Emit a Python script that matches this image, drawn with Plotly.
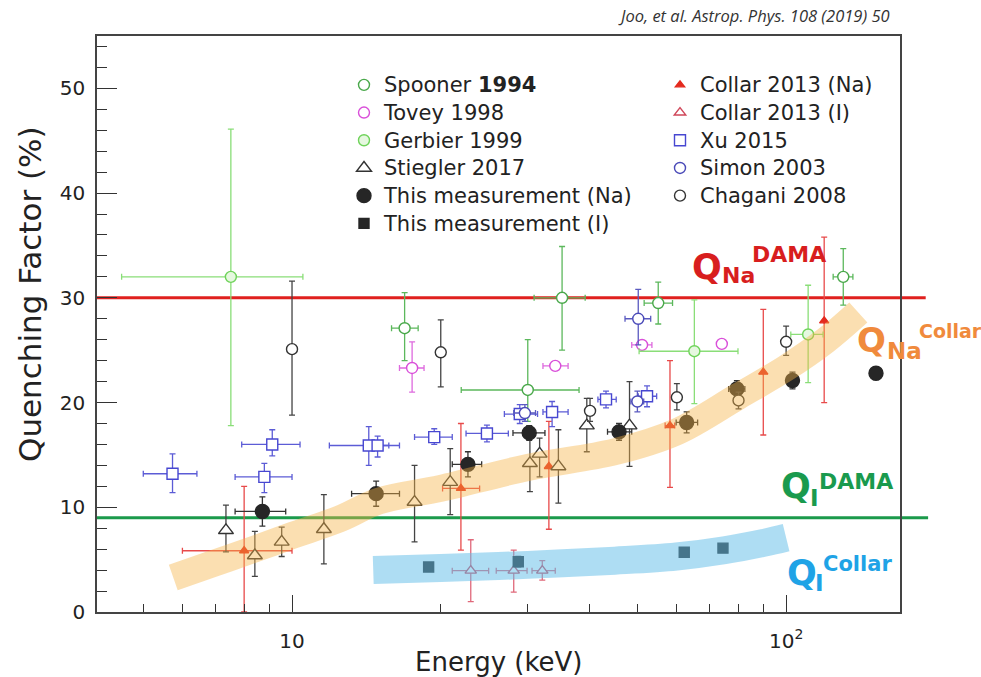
import math
import plotly.graph_objects as go

FONT = "DejaVu Sans"

# ---------------- data (energy in keV, quenching factor in %) ----------------
spooner_e = [16.9, 30.0, 35.2, 55.1, 130.5]
spooner_q = [27.1, 21.2, 30.0, 29.5, 32.0]
spooner_qp = [3.4, 4.8, 4.9, 2.0, 2.7]
spooner_qm = [3.1, 3.0, 5.0, 2.0, 2.7]
spooner_ep = [1.1, 8.1, 4.0, 3.8, 6.0]
spooner_em = [1.0, 8.0, 4.3, 3.5, 6.0]

tovey_e = [17.5, 34.1, 51.1, 74.1]
tovey_q = [23.3, 23.5, 25.5, 25.6]
tovey_qp = [2.5, 0.4, 0.4, 0.4]
tovey_qm = [2.3, 0.4, 0.4, 0.4]
tovey_ep = [1.0, 2.1, 2.4, 1.5]
tovey_em = [1.0, 1.9, 2.4, 1.5]

gerbier_e = [7.52, 65.2, 110.8]
gerbier_q = [32.0, 24.9, 26.5]
gerbier_qp = [14.1, 4.9, 4.7]
gerbier_qm = [14.2, 5.0, 4.6]
gerbier_ep = [3.0, 14.7, 8.0]
gerbier_em = [3.0, 14.8, 8.6]

stiegler_e = [7.35, 8.41, 9.53, 11.6, 17.7, 20.9, 30.3, 31.7, 34.6, 39.5, 48.2]
stiegler_q = [7.8, 5.4, 6.7, 7.9, 10.5, 12.4, 14.2, 15.1, 13.9, 17.8, 17.8]
stiegler_qp = [2.4, 2.3, 1.4, 3.3, 3.5, 3.2, 3.0, 1.5, 3.5, 2.6, 4.2]
stiegler_qm = [2.05, 2.0, 1.4, 3.3, 3.8, 3.1, 2.7, 2.2, 3.5, 2.5, 3.9]

na_e = [8.71, 14.8, 22.7, 30.2, 45.9, 62.9, 79.5, 103.0, 152.0]
na_q = [9.6, 11.3, 14.1, 17.1, 17.2, 18.1, 21.3, 22.1, 22.8]
na_qerr = [1.4, 1.2, 1.2, 0.7, 0.8, 1.0, 0.8, 0.8, 0.6]
na_ep = [1.0, 1.7, 1.5, 2.3, 2.8, 3.3, 3.0, 2.4, 0.0]
na_em = [1.04, 1.6, 1.6, 2.2, 2.4, 3.0, 3.0, 2.4, 0.0]

iod_e = [18.9, 28.7, 62.2, 74.5]
iod_q = [4.3, 4.8, 5.7, 6.1]
iod_qerr = [0.4, 0.5, 0.3, 0.3]

collar_na_e = [8.0, 21.97, 33.1, 58.2, 89.9, 119.4]
collar_na_q = [5.85, 11.8, 13.9, 17.8, 22.9, 27.8]
collar_na_qp = [6.15, 6.2, 4.3, 6.2, 6.0, 8.0]
collar_na_qm = [5.85, 5.9, 6.0, 5.9, 6.0, 7.8]
collar_na_ep = [2.0, 2.0, 0.0, 1.3, 0.0, 0.0]
collar_na_em = [2.0, 1.8, 0.0, 1.3, 0.0, 0.0]

collar_i_e = [23.0, 28.1, 32.1]
collar_i_q = [3.95, 3.95, 3.95]
collar_i_qp = [2.95, 1.95, 0.95]
collar_i_qm = [2.95, 2.05, 0.9]
collar_i_ep = [2.0, 1.8, 2.0]
collar_i_em = [1.9, 2.2, 1.5]

xu_e = [5.73, 8.79, 9.12, 14.3, 14.9, 19.4, 24.8, 28.9, 33.6, 43.2, 52.3]
xu_q = [13.2, 12.9, 16.0, 15.9, 15.9, 16.7, 17.05, 18.9, 19.1, 20.3, 20.6]
xu_qp = [1.9, 1.3, 1.4, 1.8, 0.9, 0.8, 0.8, 0.9, 1.0, 0.8, 1.0]
xu_qm = [1.8, 1.5, 1.1, 1.9, 1.1, 0.7, 0.8, 0.9, 1.4, 0.8, 1.0]
xu_ep = [0.69, 1.21, 1.26, 2.2, 0.8, 1.7, 2.6, 2.5, 2.6, 2.1, 2.4]
xu_em = [0.73, 1.12, 1.21, 2.4, 0.8, 1.7, 2.3, 2.0, 1.4, 1.6, 2.1]

simon_e = [29.6, 50.2, 50.0]
simon_q = [19.0, 28.0, 20.1]
simon_qp = [0.8, 2.8, 1.0]
simon_qm = [0.8, 2.5, 1.0]
simon_ep = [1.5, 3.0, 1.5]
simon_em = [1.5, 3.0, 1.5]

chagani_e = [10.0, 20.0, 40.1, 60.1, 80.1, 100.0]
chagani_q = [25.1, 24.8, 19.2, 20.5, 20.2, 25.8]
chagani_qp = [6.5, 3.1, 1.2, 1.3, 0.8, 1.5]
chagani_qm = [6.3, 3.3, 1.0, 1.2, 0.8, 1.3]

# shaded trend bands (centre lines)
band_na_e = [5.75, 7.0, 8.5, 10.0, 12.5, 15.0, 20.0, 30.0, 45.0, 60.0, 80.0, 100.0, 120.0, 140.0]
band_na_q = [3.3, 4.7, 6.1, 7.3, 8.9, 10.6, 11.8, 13.8, 15.3, 17.2, 20.6, 23.3, 25.9, 28.6]
band_i_e = [14.6, 20.0, 30.0, 45.0, 60.0, 75.0, 90.0, 100.0]
band_i_q = [4.0, 4.2, 4.5, 4.9, 5.3, 5.9, 6.6, 7.1]

# DAMA reference quenching factors
dama_na = 30.0
dama_i = 9.0

x_ticks = [10, 100]
x_ticktext = ["10", "10<sup>2</sup>"]
x_minor = [5, 6, 7, 8, 9, 20, 30, 40, 50, 60, 70, 80, 90]
y_ticks = [0, 10, 20, 30, 40, 50]

# ---------------- figure ----------------
fig = go.Figure()


def lbl(text):
    return '<span style="font-size:21px">' + text + "</span>"


def add_series(name, e, q, qp=None, qm=None, ep=None, em=None, symbol="circle",
               size=11, color="#333", fill="white", err_color=None, lw=1.4):
    ec = err_color or color
    kw = {}
    if qp is not None:
        kw["error_y"] = dict(type="data", array=qp, arrayminus=qm if qm is not None else qp,
                             symmetric=False, color=ec, thickness=1.3, width=3)
    if ep is not None:
        kw["error_x"] = dict(type="data", array=ep, arrayminus=em if em is not None else ep,
                             symmetric=False, color=ec, thickness=1.3, width=3)
    fig.add_trace(go.Scatter(
        x=e, y=q, mode="markers", name=lbl(name),
        marker=dict(symbol=symbol, size=size, color=fill, line=dict(color=color, width=lw)),
        **kw))


# legend is laid out row by row: left column / right column
add_series("Spooner <b>1994</b>", spooner_e, spooner_q, spooner_qp, spooner_qm, spooner_ep, spooner_em,
           color="#49a84a", err_color="#5cb85c")
add_series("Collar 2013 (Na)", collar_na_e, collar_na_q, collar_na_qp, collar_na_qm, collar_na_ep, collar_na_em,
           symbol="triangle-up", size=8, color="#e42a1e", fill="#e42a1e", err_color="#e84a4a")
add_series("Tovey 1998", tovey_e, tovey_q, tovey_qp, tovey_qm, tovey_ep, tovey_em,
           color="#d94fd9", err_color="#de6ade")
add_series("Collar 2013 (I)", collar_i_e, collar_i_q, collar_i_qp, collar_i_qm, collar_i_ep, collar_i_em,
           symbol="triangle-up", size=10, color="#d0475a", err_color="#e0687a")
add_series("Gerbier 1999", gerbier_e, gerbier_q, gerbier_qp, gerbier_qm, gerbier_ep, gerbier_em,
           color="#6fd35a", fill="#e6f8e0", err_color="#8ade78")
add_series("Xu 2015", xu_e, xu_q, xu_qp, xu_qm, xu_ep, xu_em,
           symbol="square", size=11, color="#4747d1", err_color="#5c5cd6")
add_series("Stiegler 2017", stiegler_e, stiegler_q, stiegler_qp, stiegler_qm,
           symbol="triangle-up", size=13, color="#333333", err_color="#444444")
add_series("Simon 2003", simon_e, simon_q, simon_qp, simon_qm, simon_ep, simon_em,
           color="#4a4ab8", err_color="#5a5ac0")
add_series("This measurement (Na)", na_e, na_q, na_qerr, na_qerr, na_ep, na_em,
           size=14, color="#262626", fill="#262626", err_color="#333333")
add_series("Chagani 2008", chagani_e, chagani_q, chagani_qp, chagani_qm,
           color="#333333", err_color="#444444")
add_series("This measurement (I)", iod_e, iod_q, iod_qerr, iod_qerr,
           symbol="square", size=10, color="#262626", fill="#262626", err_color="#333333")

# translucent trend bands laid over the points
fig.add_trace(go.Scatter(x=band_na_e, y=band_na_q, mode="lines", showlegend=False, hoverinfo="skip",
                         line=dict(color="rgba(245,178,70,0.42)", width=27, shape="spline")))
fig.add_trace(go.Scatter(x=band_i_e, y=band_i_q, mode="lines", showlegend=False, hoverinfo="skip",
                         line=dict(color="rgba(100,190,232,0.52)", width=28, shape="spline")))

# DAMA reference lines, running slightly past the frame
fig.add_shape(type="line", xref="paper", yref="y", x0=0, x1=1.032, y0=dama_na, y1=dama_na,
              line=dict(color="#e0201e", width=3), layer="below")
fig.add_shape(type="line", xref="paper", yref="y", x0=0, x1=1.035, y0=dama_i, y1=dama_i,
              line=dict(color="#1b9a4b", width=3), layer="below")

# ---------------- layout ----------------
X0, W, YB, H = 97, 803, 612, 576


def px(x):
    return (x - X0) / W


def py(y):
    return (YB - y) / H


annotations = []


def add_text(text, x, y, size, color, bold=True, xanchor="left", angle=0, family=FONT):
    t = "<b>" + text + "</b>" if bold else text
    annotations.append(dict(text=t, x=px(x), y=py(y), xref="paper", yref="paper",
                            xanchor=xanchor, yanchor="middle", showarrow=False, textangle=angle,
                            font=dict(family=family, size=size, color=color)))


# Q labels: letter, subscript, superscript
add_text("Q", 690, 267, 35, "#d81e1e")
add_text("Na", 720, 275, 22, "#d81e1e")
add_text("DAMA", 750, 254.5, 22, "#d81e1e")

add_text("Q", 855, 340, 34, "#f08a3c")
add_text("Na", 885, 351, 23, "#f08a3c")
add_text("Collar", 917, 331.5, 19, "#f08a3c")

add_text("Q", 779, 486, 35, "#1a9a4e")
add_text("I", 808, 498, 23, "#1a9a4e")
add_text("DAMA", 817, 481, 22, "#1a9a4e")

add_text("Q", 785, 573, 35, "#1fa3e6")
add_text("I", 813, 583, 23, "#1fa3e6")
add_text("Collar", 821, 564, 21, "#1fa3e6")

# axis titles
add_text("Energy (keV)", 498.5, 662, 26, "#222", bold=False, xanchor="center")
add_text("Quenching Factor (%)", 30, 294, 31, "#222", bold=False, xanchor="center", angle=-90)

# reference
annotations.append(dict(text="<i>Joo, et al. Astrop. Phys. 108 (2019) 50</i>", x=px(892), y=py(15.5),
                        xref="paper", yref="paper", xanchor="right", yanchor="middle", showarrow=False,
                        font=dict(family="Open Sans", size=16.5, color="#333")))

fig.update_layout(
    width=981, height=677, autosize=False,
    margin=dict(l=X0, r=981 - X0 - W, t=YB - H, b=677 - YB, autoexpand=False),
    paper_bgcolor="white", plot_bgcolor="white",
    font=dict(family=FONT, size=20, color="#222"),
    showlegend=True,
    legend=dict(orientation="h", x=px(344), y=py(66), xanchor="left", yanchor="top",
                entrywidth=271, entrywidthmode="pixels", bgcolor="rgba(0,0,0,0)",
                font=dict(family=FONT, size=19, color="#222"), itemclick=False),
    annotations=annotations,
    xaxis=dict(type="log", range=[math.log10(4.03), math.log10(170)],
               tickmode="array", tickvals=x_ticks, ticktext=x_ticktext,
               ticks="inside", ticklen=17, tickwidth=1.3, tickcolor="#333",
               showline=True, linecolor="#444", linewidth=1.5, mirror=True,
               showgrid=False, zeroline=False, ticklabelstandoff=10,
               tickfont=dict(family=FONT, size=20, color="#222"),
               minor=dict(tickmode="array", tickvals=x_minor, ticks="inside", ticklen=8,
                          tickwidth=1.2, tickcolor="#333", showgrid=False)),
    yaxis=dict(range=[0, 55], tickmode="array", tickvals=y_ticks,
               ticks="inside", ticklen=20, tickwidth=1.3, tickcolor="#333",
               showline=True, linecolor="#444", linewidth=1.5, mirror=True,
               showgrid=False, zeroline=False, ticklabelstandoff=6,
               tickfont=dict(family=FONT, size=20, color="#222"),
               minor=dict(dtick=2, ticks="inside", ticklen=10, tickwidth=1.2,
                          tickcolor="#333", showgrid=False)),
)

fig.write_html("out.html")
